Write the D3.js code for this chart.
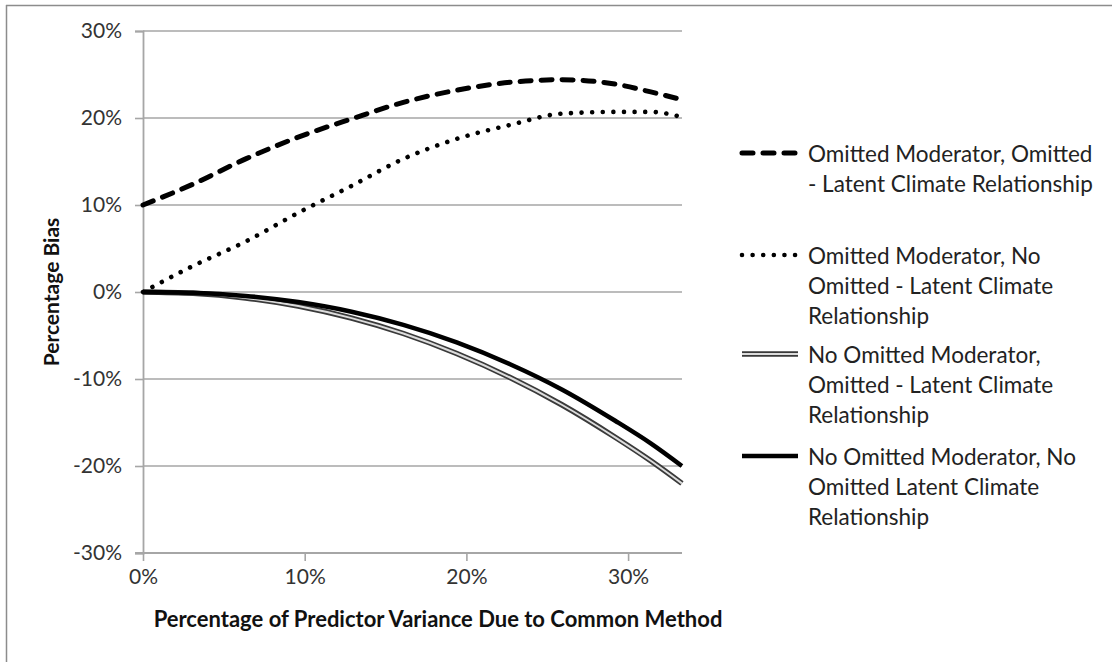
<!DOCTYPE html>
<html>
<head>
<meta charset="utf-8">
<script src="https://cdn.jsdelivr.net/npm/d3@7"></script>
<style>
  html, body { margin: 0; padding: 0; background: #fff; }
  svg { display: block; }
  text { font-family: Lato, "Open Sans", sans-serif; }
</style>
</head>
<body>
<svg id="chart" width="1112" height="662"></svg>
<script>
// ---- data ----
const xValues = [0, 0.031, 0.0635, 0.096, 0.129, 0.161, 0.194, 0.227, 0.259, 0.292, 0.314, 0.3333];
const omittedModOmittedLatent = [0.100, 0.124, 0.153, 0.178, 0.199, 0.218, 0.232, 0.241, 0.244, 0.239, 0.230, 0.221];
const omittedModNoOmitted     = [0.000, 0.030, 0.058, 0.091, 0.122, 0.153, 0.176, 0.192, 0.205, 0.207, 0.207, 0.201];
const noOmittedModOmitted     = [0.000, -0.0015, -0.0068, -0.0161, -0.030, -0.0477, -0.0707, -0.0983, -0.1296, -0.167, -0.194, -0.220];
const noOmittedModNoOmitted   = [0.000, -0.0009, -0.0045, -0.0116, -0.0227, -0.0378, -0.0579, -0.083, -0.112, -0.148, -0.174, -0.200];

const yTicks = [0.3, 0.2, 0.1, 0, -0.1, -0.2, -0.3];
const xTicks = [0, 0.1, 0.2, 0.3];

const legendLines = [
  ["Omitted Moderator, Omitted", "- Latent Climate Relationship"],
  ["Omitted Moderator, No", "Omitted - Latent Climate", "Relationship"],
  ["No Omitted Moderator,", "Omitted - Latent Climate", "Relationship"],
  ["No Omitted Moderator, No", "Omitted Latent Climate", "Relationship"]
];
const xTitle = "Percentage of Predictor Variance Due to Common Method";
const yTitle = "Percentage Bias";

// ---- layout ----
const svg = d3.select("#chart");
const plot = { left: 143, right: 682, top: 31, bottom: 553 };

const x = d3.scaleLinear().domain([0, 1/3]).range([plot.left, plot.right]);
const y = d3.scaleLinear().domain([-0.3, 0.3]).range([plot.bottom, plot.top]);
const pct = d => Math.round(d * 100) + "%";

// outer frame (top and left edges visible)
svg.append("line").attr("x1", 6).attr("x2", 1112).attr("y1", 5.5).attr("y2", 5.5)
  .attr("stroke", "#8c8c8c").attr("stroke-width", 1.5);
svg.append("line").attr("x1", 6.5).attr("x2", 6.5).attr("y1", 5).attr("y2", 662)
  .attr("stroke", "#8c8c8c").attr("stroke-width", 1.5);

const gridColor = "#a6a6a6";

// horizontal gridlines
svg.append("g").selectAll("line").data(yTicks.filter(t => t !== -0.3)).join("line")
  .attr("x1", plot.left).attr("x2", plot.right)
  .attr("y1", d => y(d)).attr("y2", d => y(d))
  .attr("stroke", gridColor).attr("stroke-width", 1.6);

// y axis
const yAxis = d3.axisLeft(y).tickValues(yTicks).tickFormat(pct).tickSize(8).tickPadding(13);
const gy = svg.append("g").attr("transform", `translate(${plot.left},0)`).call(yAxis);
gy.select(".domain").attr("stroke", gridColor).attr("stroke-width", 1.8);
gy.selectAll(".tick line").attr("stroke", gridColor).attr("stroke-width", 1.6);
gy.selectAll(".tick text").attr("fill", "#333").style("font-size", "21px")
  .style("font-family", "Lato, sans-serif");

// x axis
const xAxis = d3.axisBottom(x).tickValues(xTicks).tickFormat(pct).tickSize(8).tickPadding(8);
const gx = svg.append("g").attr("transform", `translate(0,${plot.bottom})`).call(xAxis);
gx.select(".domain").attr("stroke", gridColor).attr("stroke-width", 1.8)
  .attr("d", `M${plot.left - 8},0H${plot.right}`);
gx.selectAll(".tick line").attr("stroke", gridColor).attr("stroke-width", 1.6);
gx.selectAll(".tick text").attr("fill", "#333").style("font-size", "21px")
  .style("font-family", "Lato, sans-serif");

// axis titles
svg.append("text").attr("x", 438).attr("y", 627).attr("text-anchor", "middle")
  .style("font-size", "22px").style("font-weight", "bold").attr("fill", "#111").text(xTitle);
svg.append("text").attr("transform", "translate(59,292) rotate(-90)").attr("text-anchor", "middle")
  .style("font-size", "21px").style("font-weight", "bold").attr("fill", "#111").text(yTitle);

// ---- series ----
const line = d3.line().x(d => x(d[0])).y(d => y(d[1])).curve(d3.curveMonotoneX);
const pts = vals => xValues.map((v, i) => [v, vals[i]]);

const styles = [
  { data: omittedModOmittedLatent, draw: (g, path) => {
      g.append("path").attr("d", path).attr("fill", "none").attr("stroke", "#000")
        .attr("stroke-width", 5).attr("stroke-linecap", "round").attr("stroke-dasharray", "11,10");
  }},
  { data: omittedModNoOmitted, draw: (g, path) => {
      g.append("path").attr("d", path).attr("fill", "none").attr("stroke", "#000")
        .attr("stroke-width", 4.6).attr("stroke-linecap", "round").attr("stroke-dasharray", "0.01,10.6");
  }},
  { data: noOmittedModOmitted, draw: (g, path) => {
      g.append("path").attr("d", path).attr("fill", "none").attr("stroke", "#3a3a3a")
        .attr("stroke-width", 5.5);
      g.append("path").attr("d", path).attr("fill", "none").attr("stroke", "#dcdcdc")
        .attr("stroke-width", 2);
  }},
  { data: noOmittedModNoOmitted, draw: (g, path) => {
      g.append("path").attr("d", path).attr("fill", "none").attr("stroke", "#000")
        .attr("stroke-width", 4.5);
  }}
];

const seriesG = svg.append("g");
styles.forEach(s => s.draw(seriesG, line(pts(s.data))));

// ---- legend ----
const legendItemY = [153, 255, 354, 456];
const lineH = 30;
const legend = svg.append("g");
styles.forEach((s, i) => {
  const yy = legendItemY[i];
  const sym = d3.line()([[742, yy], [798, yy]]);
  s.draw(legend, sym);
  const t = legend.append("text").attr("x", 808).attr("y", yy)
    .attr("fill", "#222").style("font-size", "22.5px").attr("dominant-baseline", "central");
  legendLines[i].forEach((ln, j) => {
    t.append("tspan").attr("x", 808).attr("y", yy + j * lineH).text(ln);
  });
});
</script>
</body>
</html>
